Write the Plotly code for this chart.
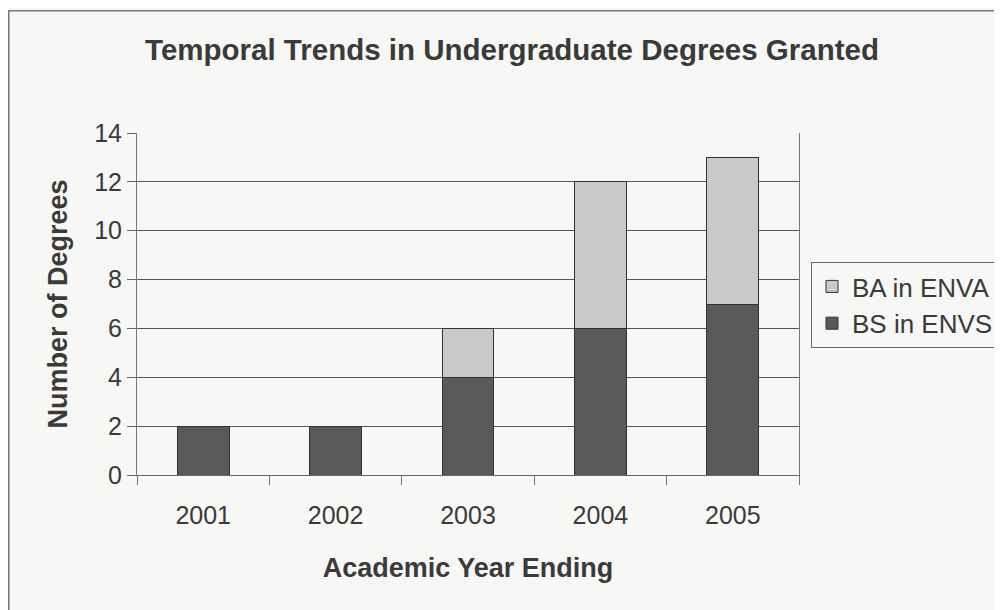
import plotly.graph_objects as go

years = ["2001", "2002", "2003", "2004", "2005"]
bs_envs = [2, 2, 4, 6, 7]
ba_enva = [0, 0, 2, 6, 6]
y_ticks = [0, 2, 4, 6, 8, 10, 12, 14]

FONT = "Liberation Sans, Arial, sans-serif"
TXT = "#3a3a3a"
BG = "#f7f7f5"

# page has an 8px body margin; figure coordinates are page coordinates minus 8
OFF = 8
W, H = 1002 - OFF, 610 - OFF
L, R, T, B = 137 - OFF, 799 - OFF, 133 - OFF, 475 - OFF


def px_x(x):
    return (x - OFF - L) / (R - L)


def px_y(y):
    return (B - (y - OFF)) / (B - T)


fig = go.Figure()
fig.add_trace(go.Bar(name="BS in ENVS", x=years, y=bs_envs,
                     marker=dict(color="#595959", line=dict(color="#333333", width=1))))
fig.add_trace(go.Bar(name="BA in ENVA", x=years, y=ba_enva,
                     marker=dict(color="#c9c9c9", line=dict(color="#333333", width=1))))

fig.update_layout(
    width=W, height=H,
    barmode="stack", bargap=0.61,
    paper_bgcolor=BG, plot_bgcolor=BG,
    margin=dict(l=L, r=W - R, t=T, b=H - B, autoexpand=False),
    font=dict(family=FONT, color=TXT, size=25),
    title=dict(text="<b>Temporal Trends in Undergraduate Degrees Granted</b>",
               x=(512 - OFF) / W, xanchor="center", y=1 - (50 - OFF) / H, yanchor="middle",
               font=dict(size=29.5, color=TXT, family=FONT)),
    legend=dict(x=px_x(811), xanchor="left", y=px_y(262), yanchor="top",
                traceorder="reversed", bgcolor=BG, bordercolor="#666666", borderwidth=1,
                font=dict(size=26, color=TXT, family=FONT), itemwidth=30,
                tracegroupgap=0),
    xaxis=dict(type="category", tickson="boundaries", ticks="outside", ticklen=9,
               tickcolor="#777777", showline=True, linecolor="#666666", linewidth=1,
               showgrid=False, tickfont=dict(size=25, color=TXT),
               ticklabelstandoff=18,
               title=dict(text="<b>Academic Year Ending</b>", standoff=30,
                          font=dict(size=27, color=TXT))),
    yaxis=dict(range=[0, 14], tickvals=y_ticks, ticks="outside", ticklen=9,
               tickcolor="#666666", showline=True, linecolor="#777777", mirror=True,
               showgrid=True, gridcolor="#555555", gridwidth=1, zeroline=False,
               tickfont=dict(size=25, color=TXT),
               title=dict(text="<b>Number of Degrees</b>", standoff=18,
                          font=dict(size=27, color=TXT))),
    shapes=[dict(type="rect", xref="paper", yref="paper",
                 x0=px_x(8.75), x1=px_x(1020),
                 y0=px_y(640), y1=px_y(10.75),
                 line=dict(color="#777777", width=1.5), fillcolor="rgba(0,0,0,0)",
                 layer="below")],
)

fig.write_html("out.html")
